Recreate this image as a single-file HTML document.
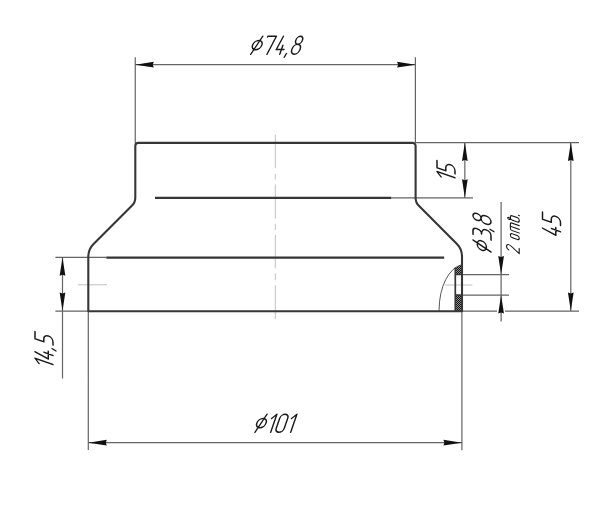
<!DOCTYPE html>
<html><head><meta charset="utf-8"><style>html,body{margin:0;padding:0;background:#fff;width:600px;height:522px;overflow:hidden}svg{display:block}</style></head>
<body><svg width="600" height="522" viewBox="0 0 600 522">
<rect width="600" height="522" fill="#fff"/>
<path d="M275.3,134.8L275.3,168M275.3,173.8L275.3,179.6M275.3,184.5L275.3,218.7M275.3,223.8L275.3,230M275.3,235L275.3,268.4M275.3,273.2L275.3,279.8M275.3,285.2L275.3,319M445.3,285L472.4,285M77.9,284.8L107,284.8" stroke="#c0c0c0" stroke-width="1" fill="none"/>
<path d="M135.25,57.3L135.25,143M415.4,57.3L415.4,143M135.3,64.7L415.6,64.7M415.6,142.6L579,142.6M391.3,197.8L473,197.8M462,311.1L497,311.1M505,311.1L579,311.1M462,274.6L509,274.6M462,295.05L509,295.05M501.1,202L501.1,321.5M55.4,257.3L106.3,257.3M55.4,311.1L88.3,311.1M62.5,257L62.5,378.4M88.3,311L88.3,450M461.9,311L461.9,450.2M88.3,442.66L461.9,442.66M464.85,142.6L464.85,197.8M570.8,142.6L570.8,311.1" stroke="#646464" stroke-width="1.2" fill="none"/>

<defs><pattern id="hp" width="2" height="2" patternUnits="userSpaceOnUse">
<rect width="2" height="2" fill="#909090"/><rect width="1" height="1" fill="#111"/><rect x="1" y="1" width="1" height="1" fill="#111"/></pattern>
<clipPath id="ell"><ellipse cx="465.3" cy="309.8" rx="26.2" ry="45.5"/><rect x="439" y="309.8" width="30" height="3"/></clipPath></defs>
<g clip-path="url(#ell)"><rect x="455.3" y="260" width="6.7" height="14.4" fill="url(#hp)"/><rect x="455.3" y="295" width="6.7" height="16.2" fill="url(#hp)"/></g>

<path d="M439.1,311.2L439.1,309.8A26.2,45.5 0 0 1 461.9,264.7" stroke="#444" stroke-width="0.9" fill="none"/>
<path d="M455.3,267.5L455.3,311M455.3,274.5L462,274.5M455.3,295L462,295" stroke="#363636" stroke-width="1.7" fill="none"/>
<path d="M88.3,311.2L88.3,256.81A18.0,18.0 0 0 1 93.57,244.08L131.79,205.86A12.0,12.0 0 0 0 135.3,197.38L135.3,145.9A3.0,3.0 0 0 1 138.3,142.9L412.6,142.9A3.0,3.0 0 0 1 415.6,145.9L415.6,197.63A12.0,12.0 0 0 0 419.11,206.11L456.73,243.73A18.0,18.0 0 0 1 462,256.46L462,311.2ZM155,197.85L391.3,197.85M106.3,257.6L444.2,257.6" stroke="#363636" stroke-width="2.1" fill="none" stroke-linejoin="round"/>
<path d="M135.3,64.7L153.8,61.85L152.8,64.7L153.8,67.55ZM415.6,64.7L397.1,67.55L398.1,64.7L397.1,61.85ZM88.3,442.66L106.8,439.81L105.8,442.66L106.8,445.51ZM461.9,442.66L443.4,445.51L444.4,442.66L443.4,439.81ZM464.85,142.6L467.7,161.1L464.85,160.1L462,161.1ZM464.85,197.8L462,179.3L464.85,180.3L467.7,179.3ZM570.8,142.6L573.65,161.1L570.8,160.1L567.95,161.1ZM570.8,311.1L567.95,292.6L570.8,293.6L573.65,292.6ZM62.5,257.3L65.35,275.8L62.5,274.8L59.65,275.8ZM62.5,311.1L59.65,292.6L62.5,293.6L65.35,292.6ZM501.1,274.6L498.25,256.1L501.1,257.1L503.95,256.1ZM501.1,295.05L503.95,313.55L501.1,312.55L498.25,313.55Z" fill="#111"/>
<g stroke="#1a1a1a" fill="none" stroke-linecap="round" stroke-linejoin="round">
<path transform="translate(249.75,54.3) skewX(-19)" d="M-0.3,-9.2a4.6,4.6 0 1 0 9.2,0a4.6,4.6 0 1 0 -9.2,0ZM1,0L6.8,-18M11.9,-17.3L11.9,-18L20.4,-18L17.2,0M27.45,-18L24.85,-4.7L32.65,-4.7M30.05,-9L30.05,0M36.45,-0.9L35.55,2.9M44.55,-10a3.3,4 0 1 0 0,-8a3.3,4 0 1 0 0,8ZM44.55,-10a4.1,5 0 1 0 0,10a4.1,5 0 1 0 0,-10Z" stroke-width="1.5"/>
<path transform="translate(254,432.3) skewX(-19)" d="M-0.3,-9.2a4.6,4.6 0 1 0 9.2,0a4.6,4.6 0 1 0 -9.2,0ZM1,0L6.8,-18M12.8,-13.9L16.7,-18L16.7,0M20.9,-4L20.9,-14A4.0,4.0 0 0 1 28.9,-14L28.9,-4A4.0,4.0 0 0 1 20.9,-4ZM32.8,-13.9L36.7,-18L36.7,0" stroke-width="1.5"/>
<path transform="translate(455,184.1) rotate(-90) skewX(-19)" d="M2.4,-13.9L6.3,-18L6.3,0M17.45,-18L10.25,-18L10.25,-9.2L13.05,-9.2A4.6,4.6 0 0 1 13.05,0L10.25,0" stroke-width="1.5"/>
<path transform="translate(560.5,237.4) rotate(-90) skewX(-19)" d="M3.1,-18L0.5,-4.7L8.3,-4.7M5.7,-9L5.7,0M19.2,-18L12,-18L12,-9.2L14.8,-9.2A4.6,4.6 0 0 1 14.8,0L12,0" stroke-width="1.5"/>
<path transform="translate(491,253) rotate(-90) skewX(-19)" d="M-0.3,-9.2a4.6,4.6 0 1 0 9.2,0a4.6,4.6 0 1 0 -9.2,0ZM1,0L6.8,-18M12.6,-18L16.1,-18C18.3,-18 19.5,-16.6 19.5,-14C19.5,-11.2 17.9,-9.5 15.8,-9.5C18.9,-9.5 21.5,-7.6 21.5,-4.6C21.5,-1.6 19.5,0 16.9,0L12.9,0M23.3,-0.9L22.4,2.9M31.3,-10a3.3,4 0 1 0 0,-8a3.3,4 0 1 0 0,8ZM31.3,-10a4.1,5 0 1 0 0,10a4.1,5 0 1 0 0,-10Z" stroke-width="1.5"/>
<path transform="translate(53,370.7) rotate(-90) skewX(-19)" d="M2.4,-13.9L6.3,-18L6.3,0M12.7,-18L10.1,-4.7L17.9,-4.7M15.3,-9L15.3,0M21.8,-0.9L20.9,2.9M32.95,-18L25.75,-18L25.75,-9.2L28.55,-9.2A4.6,4.6 0 0 1 28.55,0L25.75,0" stroke-width="1.5"/>
<path transform="translate(519.2,254) rotate(-90) skewX(-19)" stroke-width="1.15" d="M5.5,0L0.3,0L4.9,-7.8C5.7,-9 5.9,-10 5.7,-11C5.4,-12.2 4.5,-12.6 3.4,-12.6C1.9,-12.6 0.7,-11.8 0.6,-10.4M13.9,-7L13.9,-1.8Q13.9,0 15.7,0L16,0Q17.8,0 17.8,-1.8L17.8,-7Q17.8,-8.8 16,-8.8L15.7,-8.8Q13.9,-8.8 13.9,-7ZM21,0L21,-7.3Q21,-8.8 22.5,-8.8L26.9,-8.8Q28.4,-8.8 28.4,-7.3L28.4,0M24.7,-8.8L24.7,0M31.4,-7L31.4,-1.8Q31.4,0 33.2,0L33.9,0Q35.7,0 35.7,-1.8L35.7,-7Q35.7,-8.8 33.9,-8.8L33.2,-8.8Q31.4,-8.8 31.4,-7ZM32,-8.6C30.8,-9.4 31,-11.6 32.3,-11.4C33.4,-11.2 33.2,-9.6 32,-8.6M38.4,-0.6L38.4,0.3"/>
</g>
</svg></body></html>
